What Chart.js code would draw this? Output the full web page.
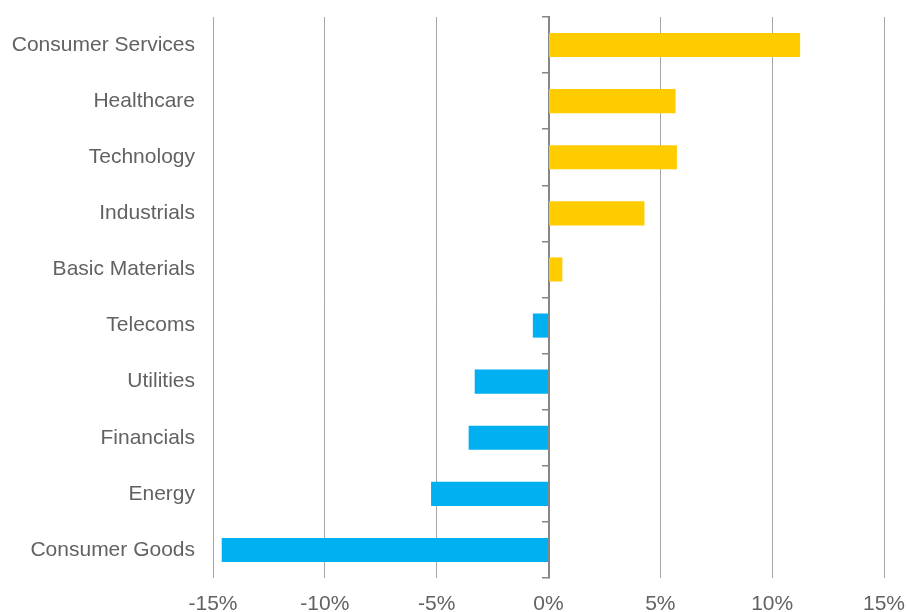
<!DOCTYPE html>
<html>
<head>
<meta charset="utf-8">
<script src="https://cdn.jsdelivr.net/npm/chart.js@4/dist/chart.umd.min.js"></script>
<style>
  html, body { margin: 0; padding: 0; background: #fff; }
  #wrap { width: 908px; height: 612px; }
</style>
</head>
<body>
<div id="wrap"><canvas id="chart"></canvas></div>
<script>
// セクター別リターン (%)
const sectors = [
  "Consumer Services", "Healthcare", "Technology", "Industrials", "Basic Materials",
  "Telecoms", "Utilities", "Financials", "Energy", "Consumer Goods"
];
const returns = [11.25, 5.68, 5.74, 4.29, 0.62, -0.70, -3.30, -3.57, -5.25, -14.61];
const xTicks = [-15, -10, -5, 0, 5, 10, 15];

const POS_COLOR = "#FFCC00";
const NEG_COLOR = "#00B0F0";
const TEXT_COLOR = "#626262";
const FONT = { family: "'Liberation Sans', Arial, sans-serif", size: 21 };

const ctx = document.getElementById("chart").getContext("2d");

new Chart(ctx, {
  type: "bar",
  data: {
    labels: sectors,
    datasets: [{
      data: returns,
      backgroundColor: (c) => (c.raw >= 0 ? POS_COLOR : NEG_COLOR),
      borderWidth: 0,
      barPercentage: 0.43,
      categoryPercentage: 1.0
    }]
  },
  options: {
    indexAxis: "y",
    animation: false,
    responsive: true,
    maintainAspectRatio: false,
    layout: {
      padding: { top: 17, left: 10, right: 0, bottom: 0 }
    },
    plugins: {
      legend: { display: false },
      tooltip: { enabled: false }
    },
    scales: {
      x: {
        type: "linear",
        min: xTicks[0],
        max: xTicks[xTicks.length - 1],
        afterBuildTicks: (scale) => {
          scale.ticks = xTicks.map(v => ({ value: v }));
        },
        afterFit: (scale) => {
          scale.height = 34;
          scale.paddingRight = 24;
        },
        grid: {
          color: (c) => (c.tick && c.tick.value === 0 ? "rgba(0,0,0,0)" : "#A6A6A6"),
          lineWidth: 1,
          drawTicks: false
        },
        border: { display: false },
        ticks: {
          color: TEXT_COLOR,
          padding: 14,
          font: FONT,
          callback: (v) => v + "%"
        }
      },
      y: {
        type: "category",
        position: "left",
        afterFit: (scale) => {
          scale.width = 203;
          scale.paddingTop = 0;
          scale.paddingBottom = 0;
        },
        grid: { display: false, drawTicks: false },
        border: { display: false },
        ticks: {
          color: TEXT_COLOR,
          padding: 18,
          font: FONT
        }
      },
      // ゼロ位置の軸線と区切りの目盛り
      y0: {
        type: "category",
        labels: sectors,
        position: { x: 0 },
        offset: true,
        z: 1,
        afterFit: (scale) => {
          scale.paddingTop = 0;
          scale.paddingBottom = 0;
        },
        grid: {
          offset: true,
          drawOnChartArea: false,
          drawTicks: true,
          tickLength: 6,
          color: "#868686",
          lineWidth: 1.5
        },
        border: { display: true, color: "#868686", width: 2 },
        ticks: { display: false }
      }
    }
  }
});
</script>
</body>
</html>
